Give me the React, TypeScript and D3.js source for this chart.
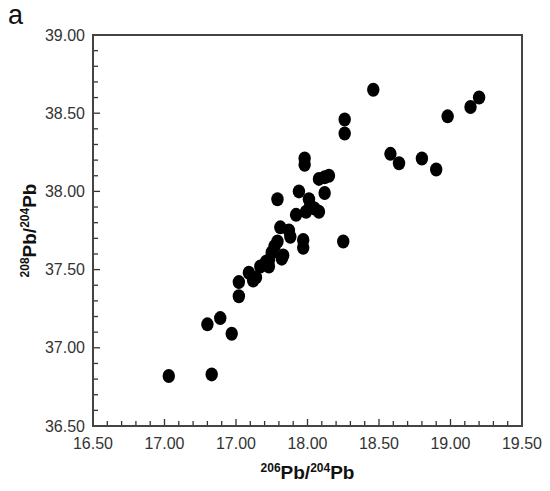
import React from "react";
import * as d3 from "d3";

const pb206: number[] = [
  17.03, 17.33, 17.30, 17.39, 17.47, 17.52, 17.52, 17.59, 17.62, 17.64,
  17.67, 17.73, 17.73, 17.75, 17.79, 17.82, 17.83, 17.81, 17.87, 17.88,
  17.97, 17.97, 18.25, 17.79, 17.92, 17.94, 18.01, 18.02, 17.99, 18.05,
  18.08, 18.12, 17.98, 17.98, 18.08, 18.12, 18.15, 18.26, 18.26, 18.46,
  18.58, 18.64, 18.80, 18.90, 18.98, 19.14, 19.20, 17.71, 17.77,
];
const pb208: number[] = [
  36.82, 36.83, 37.15, 37.19, 37.09, 37.33, 37.42, 37.48, 37.43, 37.45,
  37.52, 37.52, 37.56, 37.61, 37.68, 37.57, 37.59, 37.77, 37.75, 37.71,
  37.69, 37.64, 37.68, 37.95, 37.85, 38.00, 37.95, 37.91, 37.87, 37.89,
  37.87, 37.99, 38.21, 38.17, 38.08, 38.09, 38.10, 38.46, 38.37, 38.65,
  38.24, 38.18, 38.21, 38.14, 38.48, 38.54, 38.60, 37.55, 37.65,
];

const xTickValues: number[] = [16.5, 17.0, 17.5, 18.0, 18.5, 19.0, 19.5];
const xTickLabels: string[] = ["16.50", "17.00", "17.00", "18.00", "18.50", "19.00", "19.50"];
const yTickValues: number[] = [36.5, 37.0, 37.5, 38.0, 38.5, 39.0];
const yTickLabels: string[] = ["36.50", "37.00", "37.50", "38.00", "38.50", "39.00"];

const W = 550;
const H = 491;
const left = 93;
const right = 522;
const top = 35;
const bottom = 426;

export default function App() {
  const x = d3.scaleLinear().domain([16.5, 19.5]).range([left, right]);
  const y = d3.scaleLinear().domain([36.5, 39.0]).range([bottom, top]);
  const xMinor = d3.range(0, 31).map((i) => 16.5 + i * 0.1);
  const yMinor = d3.range(0, 26).map((i) => 36.5 + i * 0.1);
  const font = "'Liberation Sans', Arial, Helvetica, sans-serif";
  const pts = pb206.map((v, i) => ({ x: v, y: pb208[i] }));

  return (
    <svg
      width={W}
      height={H}
      style={{ position: "absolute", left: 0, top: 0, background: "#fff" }}
      fontFamily={font}
    >
      <text x={8} y={24} fontSize={27} fill="#111">a</text>
      {/* minor ticks */}
      {xMinor.map((v, i) => (
        <line key={"xm" + i} x1={x(v)} x2={x(v)} y1={bottom} y2={bottom - (Math.abs((v - 16.5) / 0.5 - Math.round((v - 16.5) / 0.5)) < 0.01 ? 7 : 5)} stroke="#333" strokeWidth={1.3} />
      ))}
      {yMinor.map((v, i) => (
        <line key={"ym" + i} y1={y(v)} y2={y(v)} x1={left} x2={left + (Math.abs((v - 36.5) / 0.5 - Math.round((v - 36.5) / 0.5)) < 0.01 ? 7 : 5)} stroke="#333" strokeWidth={1.3} />
      ))}
      <rect x={left} y={top} width={right - left} height={bottom - top} fill="none" stroke="#444" strokeWidth={2} />
      {xTickValues.map((v, i) => (
        <text key={"xt" + i} x={x(v)} y={449} textAnchor="middle" fontSize={16} fill="#333">
          {xTickLabels[i]}
        </text>
      ))}
      {yTickValues.map((v, i) => (
        <text key={"yt" + i} x={85} y={y(v)} dy="0.35em" textAnchor="end" fontSize={16} fill="#333">
          {yTickLabels[i]}
        </text>
      ))}
      {pts.map((p, i) => (
        <ellipse key={"p" + i} cx={x(p.x)} cy={y(p.y)} rx={6.2} ry={7} fill="#000" />
      ))}
      <text x={(left + right) / 2} y={479} textAnchor="middle" fontSize={19} fontWeight="bold" fill="#111">
        <tspan fontSize={12} dy={-7}>206</tspan>
        <tspan dy={7}>Pb/</tspan>
        <tspan fontSize={12} dy={-7}>204</tspan>
        <tspan dy={7}>Pb</tspan>
      </text>
      <text transform={`translate(36, ${(top + bottom) / 2}) rotate(-90)`} textAnchor="middle" fontSize={19} fontWeight="bold" fill="#111">
        <tspan fontSize={12} dy={-7}>208</tspan>
        <tspan dy={7}>Pb/</tspan>
        <tspan fontSize={12} dy={-7}>204</tspan>
        <tspan dy={7}>Pb</tspan>
      </text>
    </svg>
  );
}
